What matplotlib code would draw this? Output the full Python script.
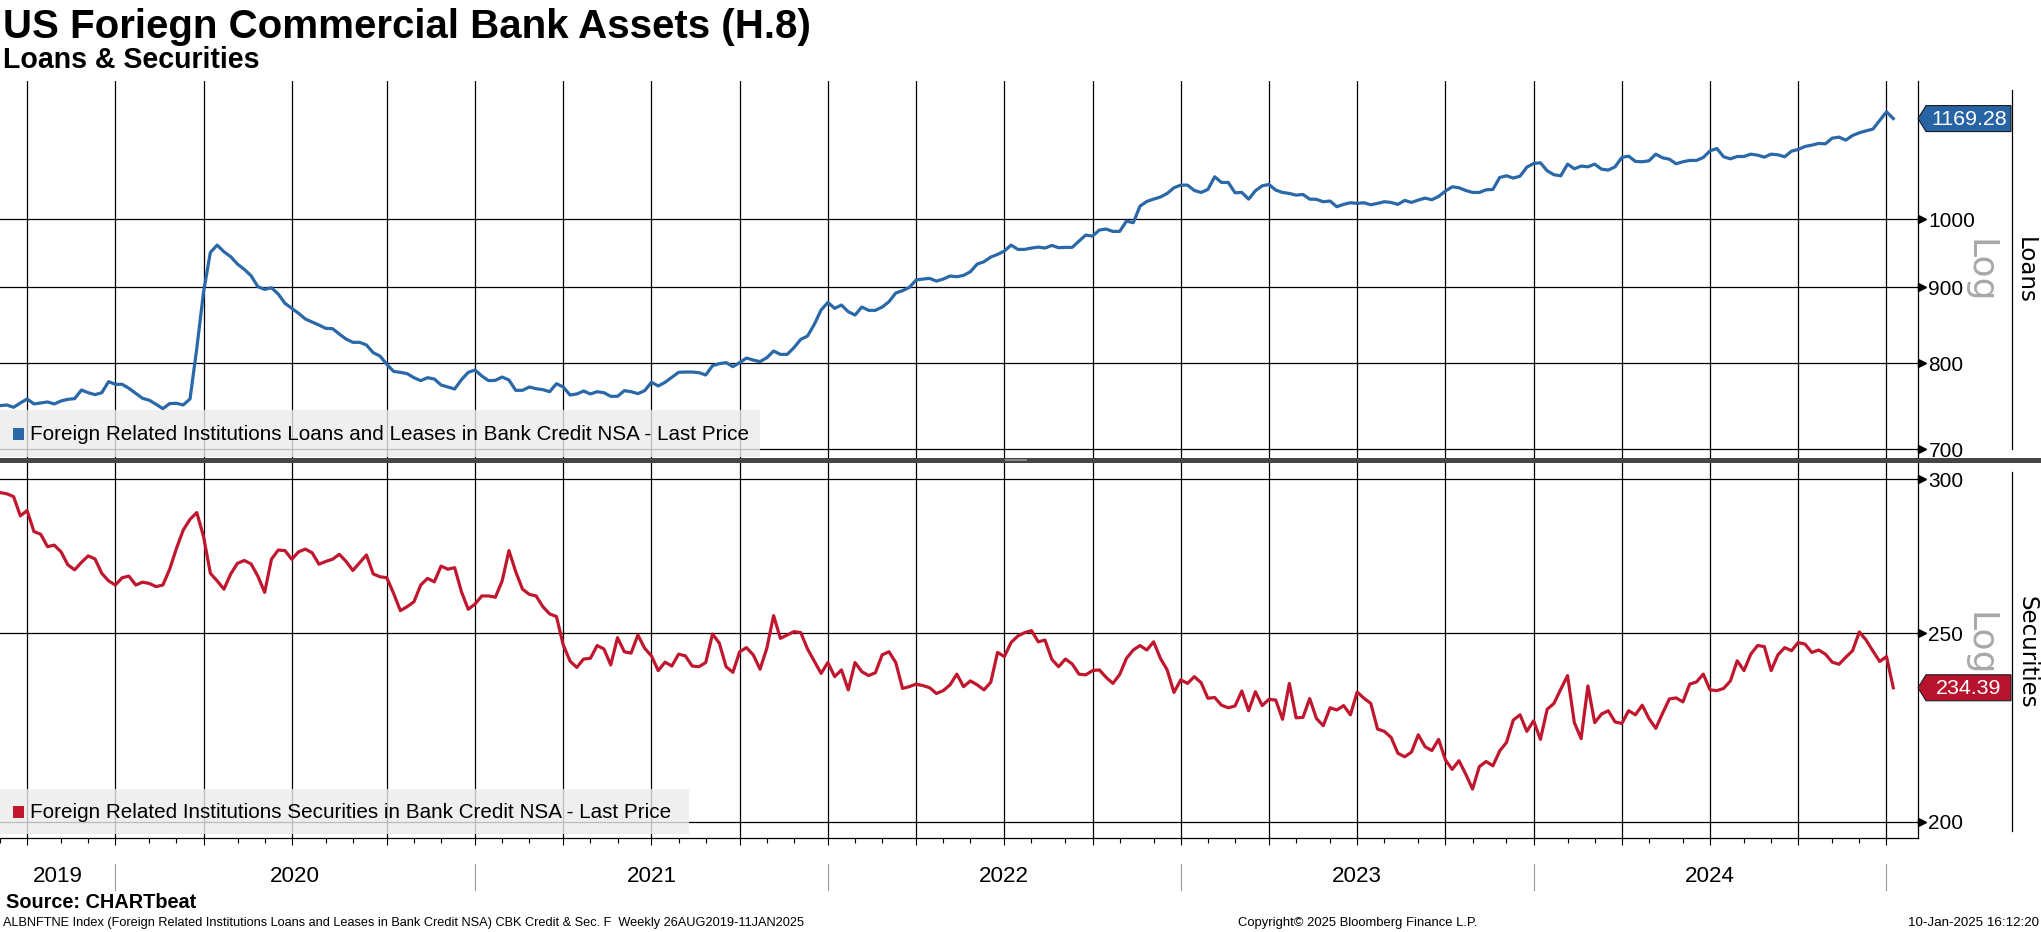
import numpy as np
import pandas as pd
import matplotlib
matplotlib.use("Agg")
import matplotlib.pyplot as plt
import matplotlib.dates as mdates
import matplotlib.transforms as mtransforms
from matplotlib import font_manager as fm
from matplotlib.patches import Polygon, Rectangle
from matplotlib.lines import Line2D
from matplotlib.ticker import FixedLocator, FixedFormatter, NullLocator

plt.rcParams['font.family'] = ['Liberation Sans', 'DejaVu Sans']

# ---------------- data (weekly) ----------------
first_date = "2019-09-04"

loans = [
    749.2, 750.0, 747.3, 752.3, 757.0, 751.2, 752.3, 753.5, 751.2, 754.7,
    756.6, 757.4, 767.6, 764.4, 762.1, 764.4, 777.6, 774.4, 774.4, 769.6,
    763.7, 757.8, 755.5, 750.8, 745.7, 751.6, 751.9, 750.0, 757.0, 818.8,
    894.0, 950.1, 961.0, 951.1, 943.8, 933.1, 925.5, 916.4, 901.0, 897.2,
    899.5, 890.8, 878.0, 871.2, 864.5, 856.9, 853.0, 849.0, 844.6, 844.2,
    837.2, 830.7, 826.5, 826.5, 823.1, 813.3, 809.1, 798.8, 790.1, 788.9,
    787.3, 782.4, 778.8, 782.4, 780.8, 773.6, 771.2, 768.8, 780.0, 788.9,
    791.8, 784.5, 778.8, 779.2, 783.2, 779.6, 767.2, 767.2, 771.2, 769.2,
    768.0, 765.6, 775.2, 771.2, 761.7, 762.9, 766.4, 762.9, 765.6, 764.4,
    760.1, 760.1, 766.8, 765.6, 763.3, 766.8, 776.8, 772.4, 776.8, 782.8,
    788.9, 789.3, 789.3, 788.5, 785.7, 797.1, 799.6, 800.9, 795.9, 800.9,
    806.6, 804.1, 802.1, 807.0, 815.4, 811.2, 811.2, 819.7, 830.3, 834.6,
    849.9, 869.0, 879.3, 871.2, 875.7, 866.7, 862.2, 873.0, 868.5, 868.5,
    873.0, 880.2, 892.2, 895.4, 900.0, 910.3, 911.7, 912.6, 908.8, 911.7,
    916.0, 915.0, 916.9, 922.1, 933.1, 936.5, 943.3, 947.2, 952.1, 961.0,
    954.6, 954.6, 956.6, 958.0, 956.6, 960.5, 957.1, 957.6, 957.6, 966.9,
    976.0, 974.5, 983.7, 985.2, 981.6, 981.6, 997.4, 994.9, 1020.9, 1028.3,
    1032.0, 1035.3, 1041.1, 1050.3, 1054.6, 1054.6, 1045.9, 1042.7, 1047.6, 1068.3,
    1059.0, 1059.0, 1042.2, 1042.7, 1032.0, 1045.4, 1053.5, 1055.7, 1046.5, 1042.7,
    1041.1, 1038.4, 1039.5, 1032.0, 1031.6, 1027.8, 1028.9, 1019.9, 1023.6, 1026.2,
    1025.2, 1026.2, 1023.0, 1025.2, 1027.8, 1026.7, 1023.6, 1029.9, 1026.7, 1030.4,
    1033.6, 1031.0, 1036.3, 1044.9, 1051.9, 1050.3, 1045.9, 1042.7, 1042.7, 1047.0,
    1047.6, 1067.2, 1070.0, 1066.2, 1069.4, 1084.4, 1090.6, 1091.8, 1078.3, 1071.7,
    1070.0, 1089.5, 1081.7, 1086.2, 1085.0, 1089.5, 1081.1, 1079.5, 1085.0, 1100.8,
    1103.1, 1094.1, 1093.5, 1095.2, 1106.5, 1100.2, 1097.9, 1090.1, 1093.5, 1095.8,
    1095.8, 1100.8, 1112.2, 1116.3, 1102.0, 1098.5, 1102.5, 1102.5, 1106.5, 1104.8,
    1101.4, 1106.5, 1105.4, 1102.0, 1111.7, 1114.6, 1119.8, 1122.1, 1125.0, 1124.4,
    1134.3, 1136.1, 1130.8, 1139.0, 1143.8, 1147.3, 1150.3, 1165.8, 1181.6, 1169.28,
]

securities = [
    295.3, 294.9, 293.9, 287.3, 289.1, 282.0, 281.1, 277.0, 277.5, 275.3,
    271.1, 269.5, 271.9, 274.0, 273.0, 268.4, 266.0, 264.7, 267.0, 267.5,
    264.7, 265.6, 265.2, 264.2, 264.7, 269.7, 276.4, 282.5, 286.1, 288.4,
    280.3, 268.4, 266.0, 263.4, 268.2, 271.6, 272.5, 271.4, 267.5, 262.4,
    272.9, 275.9, 275.7, 272.9, 275.3, 276.2, 275.0, 271.3, 272.2, 272.9,
    274.5, 272.2, 269.3, 271.8, 274.3, 268.2, 267.3, 267.0, 262.1, 256.8,
    258.0, 259.5, 264.7, 266.8, 265.7, 270.7, 269.7, 270.2, 262.6, 257.2,
    258.8, 261.3, 261.3, 260.9, 266.0, 275.7, 268.9, 263.4, 261.8, 261.3,
    258.0, 255.8, 255.0, 246.6, 241.9, 240.1, 242.5, 242.7, 246.4, 245.4,
    240.8, 248.7, 244.6, 244.2, 249.5, 245.6, 243.4, 239.2, 241.6, 240.5,
    243.9, 243.4, 240.5, 240.3, 241.5, 249.8, 247.1, 240.3, 238.7, 244.6,
    245.8, 243.7, 239.6, 245.6, 255.3, 248.5, 249.5, 250.5, 250.2, 245.4,
    241.9, 238.4, 241.5, 237.5, 239.4, 233.8, 241.5, 238.9, 237.8, 238.6,
    243.7, 244.6, 241.5, 234.2, 234.7, 235.4, 235.0, 234.4, 232.8, 233.6,
    235.2, 238.2, 234.7, 236.3, 235.2, 233.8, 235.9, 244.4, 243.2, 247.3,
    249.2, 250.2, 250.8, 247.5, 248.0, 242.4, 240.3, 242.5, 241.1, 238.2,
    238.0, 239.2, 239.4, 237.3, 235.6, 238.1, 242.7, 245.1, 246.4, 245.1,
    247.5, 242.7, 239.4, 233.1, 236.6, 235.6, 237.5, 235.8, 231.5, 231.7,
    229.6, 228.9, 229.4, 233.5, 228.1, 233.3, 229.5, 231.2, 231.0, 225.8,
    235.6, 226.2, 226.3, 231.4, 226.0, 224.1, 228.9, 228.3, 229.5, 227.0,
    233.2, 231.5, 230.1, 223.2, 222.6, 221.0, 216.9, 216.0, 217.2, 221.7,
    218.6, 217.6, 220.5, 215.2, 212.8, 215.0, 211.6, 207.9, 213.5, 214.8,
    213.7, 217.5, 219.7, 225.6, 227.0, 222.6, 225.4, 220.5, 228.5, 230.1,
    234.0, 237.8, 224.9, 220.7, 234.9, 224.9, 227.2, 228.1, 225.1, 224.7,
    228.1, 227.0, 229.6, 226.0, 223.4, 227.4, 231.3, 231.6, 230.5, 235.4,
    236.0, 238.2, 233.8, 233.6, 234.2, 236.3, 242.0, 239.2, 243.9, 246.4,
    246.1, 239.2, 243.7, 245.8, 244.9, 247.3, 246.8, 244.4, 245.1, 243.9,
    241.6, 241.0, 243.0, 244.9, 250.4, 248.0, 244.8, 241.8, 243.2, 234.39,
]

dates = pd.date_range(first_date, periods=len(loans), freq="7D")

title = "US Foriegn Commercial Bank Assets (H.8)"
subtitle = "Loans & Securities"
loans_legend = "Foreign Related Institutions Loans and Leases in Bank Credit NSA - Last Price"
sec_legend = "Foreign Related Institutions Securities in Bank Credit NSA - Last Price"
loans_ticks = [700, 800, 900, 1000]
sec_ticks = [200, 250, 300]
loans_ylim = (690.8, 1239.4)
sec_ylim = (196.2, 306.2)
years = [2019, 2020, 2021, 2022, 2023, 2024]
source = "Source: CHARTbeat"
footer_left = ("ALBNFTNE Index (Foreign Related Institutions Loans and Leases in Bank Credit NSA) "
               "CBK Credit & Sec. F  Weekly 26AUG2019-11JAN2025")
footer_mid = "Copyright\u00a9 2025 Bloomberg Finance L.P."
footer_right = "10-Jan-2025 16:12:20"
x_right = pd.Timestamp("2025-02-02 12:00")

BLUE = "#2a68a8"
BLUE_BOX = "#2864a3"
RED = "#c0172f"
RED_BOX = "#b8132e"


def has_font(name):
    try:
        fm.findfont(fm.FontProperties(family=name), fallback_to_default=False)
        return True
    except Exception:
        return False

NARROW = "Liberation Sans Narrow" if has_font("Liberation Sans Narrow") else "Liberation Sans"

# ---------------- layout helpers ----------------
W, H = 2041, 932
def fx(px):
    return px / W
def fy(py):
    return 1 - py / H

fig = plt.figure(figsize=(W / 100, H / 100), dpi=100)
fig.patch.set_facecolor("white")
renderer = fig.canvas.get_renderer()

def fit(t, target_w):
    w = t.get_window_extent(renderer).width
    t.set_fontsize(t.get_fontsize() * target_w / w)
    return t

ax1 = fig.add_axes([0, fy(458), fx(1918), (458 - 81) / H])
ax2 = fig.add_axes([0, fy(838), fx(1918), (838 - 462) / H])

s = pd.Series(dates)
prev = s - pd.Timedelta(days=7)
quarter_dates = list(s[s.dt.to_period("Q") != prev.dt.to_period("Q")])
month_dates = list(s[s.dt.month != prev.dt.month])
year_dates = list(s[s.dt.year != prev.dt.year])

xl = mdates.date2num(dates[0])
xr = mdates.date2num(x_right)

panels = [
    (ax1, loans, BLUE, loans_ticks, loans_ylim),
    (ax2, securities, RED, sec_ticks, sec_ylim),
]
for ax, vals, color, ticks, ylim in panels:
    ax.set_facecolor("white")
    ax.set_yscale("log")
    for q in quarter_dates:
        ax.axvline(q, color="black", lw=0.9, zorder=1)
    for t in ticks:
        ax.axhline(t, color="black", lw=0.9, zorder=1)
    ax.plot(dates, vals, color=color, lw=2.3, zorder=3, solid_joinstyle="round")
    ax.set_xlim(xl, xr)
    ax.set_ylim(*ylim)
    ax.yaxis.set_major_locator(FixedLocator(ticks))
    ax.yaxis.set_major_formatter(FixedFormatter([str(t) for t in ticks]))
    ax.yaxis.set_minor_locator(NullLocator())
    ax.yaxis.tick_right()
    ax.tick_params(axis="y", which="both", length=0, pad=7.5, labelsize=15)
    for lab in ax.get_yticklabels():
        lab.set_fontfamily("Liberation Sans")
    trans = mtransforms.blended_transform_factory(ax.transAxes, ax.transData)
    ax.plot([1 + 4.5 / 1918] * len(ticks), ticks, ls="none", marker=">", ms=5.5,
            color="black", transform=trans, clip_on=False, zorder=5)
    for sp in ["top", "left"]:
        ax.spines[sp].set_visible(False)
    ax.spines["right"].set_color("black")
    ax.spines["right"].set_linewidth(0.9)

ax1.spines["bottom"].set_visible(False)
ax1.tick_params(axis="x", which="both", bottom=False, labelbottom=False)
ax2.spines["bottom"].set_color("black")
ax2.spines["bottom"].set_linewidth(0.9)
ax2.xaxis.set_major_locator(FixedLocator(mdates.date2num(quarter_dates)))
ax2.xaxis.set_minor_locator(FixedLocator(mdates.date2num(month_dates)))
ax2.tick_params(axis="x", which="major", length=5, width=0.8, labelbottom=False)
ax2.tick_params(axis="x", which="minor", length=3.6, width=0.8, labelbottom=False)

# year labels and separators
bt = mtransforms.blended_transform_factory(ax2.transData, fig.transFigure)
bounds = [xl] + [mdates.date2num(d) for d in year_dates]
year_size = None
for i, yr in enumerate(years):
    mid = (bounds[i] + bounds[i + 1]) / 2
    t = ax2.text(mid, fy(877), str(yr), transform=bt, ha="center", va="center",
                 fontsize=15, family=NARROW, clip_on=False)
    if year_size is None:
        fit(t, 50)
        year_size = t.get_fontsize()
    else:
        t.set_fontsize(year_size)
for d in year_dates:
    x = mdates.date2num(d)
    ax2.plot([x, x], [fy(864), fy(890)], transform=bt, color="#9a9a9a", lw=0.8,
             clip_on=False)

# separator between panels
fig.patches.append(Rectangle((0, fy(462.5)), 1, 5 / H, transform=fig.transFigure,
                             facecolor="#454545", edgecolor="none", zorder=6))
fig.patches.append(Rectangle((fx(1005), fy(460.8)), fx(22), 1.6 / H, transform=fig.transFigure,
                             facecolor="#8a8a8a", edgecolor="none", zorder=7))

# right side labels
for y0, y1 in [(90, 449), (472, 831)]:
    fig.add_artist(Line2D([fx(2012), fx(2012)], [fy(y0), fy(y1)], color="black", lw=0.9))
for yc in (271, 644):
    fig.text(fx(1980), fy(yc), "Log", rotation=270, ha="center", va="center",
             fontsize=26, color="#a8a8a8", family="DejaVu Sans")
fig.text(fx(2025), fy(270), "Loans", rotation=270, ha="center", va="center",
         fontsize=16.5, color="black", family="DejaVu Sans")
fig.text(fx(2027), fy(652), "Securities", rotation=270, ha="center", va="center",
         fontsize=16.5, color="black", family="DejaVu Sans")

# last-value boxes
def value_box(ax, value, face, label):
    yd = ax.transData.transform((mdates.date2num(dates[-1]), value))[1]
    hh = 13
    pts = np.array([[1918, yd], [1926, yd + hh], [2011, yd + hh], [2011, yd - hh], [1926, yd - hh]])
    pts = pts / np.array([W, H])
    fig.patches.append(Polygon(pts, closed=True, transform=fig.transFigure, facecolor=face,
                               edgecolor="#1e1e1e", lw=0.8, zorder=8))
    fig.text(fx(1969), (yd - 0.5) / H, label, ha="center", va="center", color="white",
             fontsize=15.4, family="Liberation Sans", zorder=9)

value_box(ax1, loans[-1], BLUE_BOX, f"{loans[-1]:.2f}")
value_box(ax2, securities[-1], RED_BOX, f"{securities[-1]:.2f}")

# legends
def legend_box(x1, y_top, y_bot, color, text, ref_size=None, target=None):
    fig.patches.append(Rectangle((0, fy(y_bot)), fx(x1), (y_bot - y_top) / H,
                                 transform=fig.transFigure, facecolor="#ebebeb",
                                 edgecolor="none", alpha=0.8, zorder=4))
    yc = (y_top + y_bot) / 2 + 0.5
    fig.patches.append(Rectangle((fx(13), fy(yc + 6)), fx(11), 12 / H,
                                 transform=fig.transFigure, facecolor=color,
                                 edgecolor="none", zorder=5))
    t = fig.text(fx(29.5), fy(yc), text, ha="left", va="center", fontsize=15,
                 family=NARROW, zorder=6)
    if target is not None:
        fit(t, target)
    elif ref_size is not None:
        t.set_fontsize(ref_size)
    return t

t_leg = legend_box(760, 410, 457, BLUE, loans_legend, target=719)
legend_box(689, 789, 834, RED, sec_legend, ref_size=t_leg.get_fontsize())

# titles
t = fig.text(fx(3), fy(38), title, ha="left", va="baseline", fontsize=28,
             fontweight="bold", family="Liberation Sans")
fit(t, 807)
t = fig.text(fx(3), fy(68), subtitle, ha="left", va="baseline", fontsize=20,
             fontweight="bold", family="Liberation Sans")
fit(t, 257)

# footer
t = fig.text(fx(6), fy(902), source, ha="left", va="center", fontsize=13,
             fontweight="bold", family="Liberation Sans")
fit(t, 190)
t = fig.text(fx(3), fy(923), footer_left, ha="left", va="center", fontsize=9,
             family=NARROW)
fit(t, 806)
t = fig.text(fx(1238), fy(923), footer_mid, ha="left", va="center", fontsize=9,
             family=NARROW)
fit(t, 239)
t = fig.text(fx(2039), fy(923), footer_right, ha="right", va="center", fontsize=9,
             family=NARROW)
fit(t, 131)

fig.savefig("out.png", dpi=100, facecolor="white")
